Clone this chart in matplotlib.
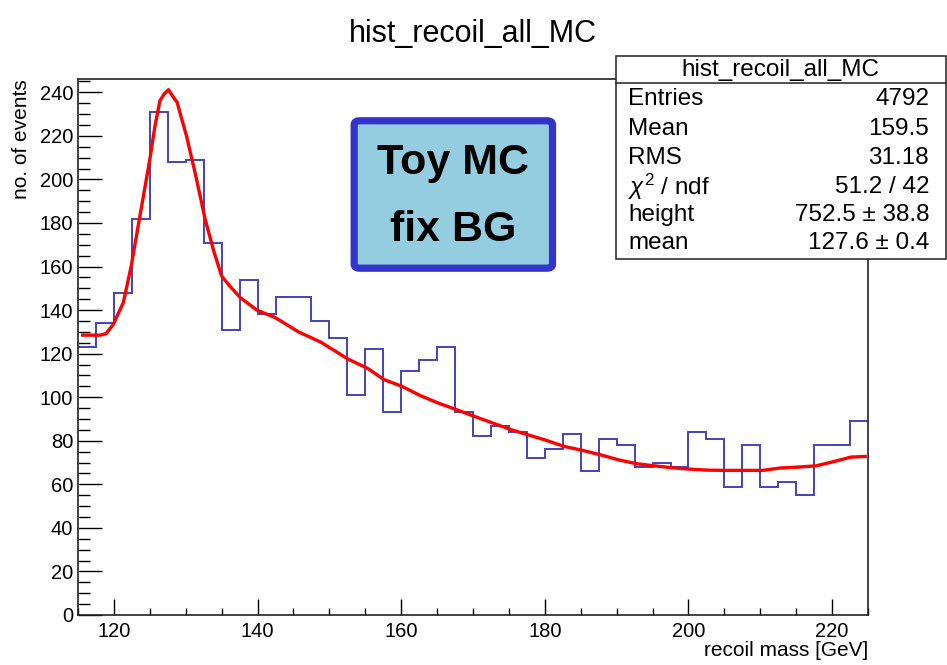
import numpy as np
import matplotlib.pyplot as plt
from matplotlib.patches import Rectangle, FancyBboxPatch
from matplotlib.lines import Line2D
from matplotlib.ticker import MultipleLocator

plt.rcParams['font.family'] = ['Liberation Sans', 'DejaVu Sans']
plt.rcParams['mathtext.fontset'] = 'custom'
plt.rcParams['mathtext.rm'] = 'Liberation Sans'
plt.rcParams['mathtext.it'] = 'Liberation Sans:italic'

# recoil mass histogram, 2.5 GeV bins from 115 to 225 GeV
x_lo = 115.0
bin_width = 2.5
counts = [123, 134, 148, 182, 231, 208, 209, 171, 131, 154,
          138, 146, 146, 135, 127, 101, 122, 93, 112, 117,
          123, 93, 82, 87, 84, 72, 76, 83, 66, 81,
          78, 68, 70, 68, 84, 81, 59, 78, 59, 61,
          55, 78, 78, 89]

# fitted signal + background curve
fit_x = [115.65, 118.07, 118.9, 119.9, 121.3, 122.4, 123.7, 125.0, 125.7, 126.4,
         127.0, 127.6, 128.2, 128.8, 129.4, 130.1, 131.4, 132.7, 133.9, 135.0,
         136.2, 137.6, 139.9, 142.5, 145.7, 148.8, 152.6, 155.3, 157.6, 160.1,
         162.7, 165.1, 167.7, 170.2, 172.7, 175.3, 177.6, 180.2, 182.7, 185.1,
         187.7, 190.2, 192.7, 195.2, 197.8, 200.1, 202.8, 205.3, 207.7, 210.3,
         212.8, 215.2, 217.8, 220.3, 222.6, 224.6]
fit_y = [128.5, 128.5, 129.2, 133.4, 143.4, 160.2, 184.8, 209.3, 224.3, 236.1,
         239.3, 241.2, 238.1, 235.4, 228.2, 220.0, 201.6, 181.7, 167.1, 155.6,
         150.8, 145.7, 140.0, 136.5, 130.0, 125.3, 117.5, 113.3, 108.1, 105.0,
         100.7, 97.4, 94.3, 91.2, 88.2, 85.1, 82.8, 80.2, 77.4, 75.7,
         73.6, 71.3, 69.5, 68.5, 67.6, 67.0, 66.5, 66.4, 66.4, 66.4,
         67.5, 67.9, 68.5, 70.5, 72.5, 72.8]

stat_names = ['Entries', 'Mean', 'RMS', r'$\chi^2$ / ndf', 'height', 'mean']
stat_values = ['4792', '159.5', '31.18', '51.2 / 42', '752.5 \u00b1 38.8', '127.6 \u00b1 0.4']

edges = x_lo + bin_width * np.arange(len(counts) + 1)

fig = plt.figure(figsize=(9.47, 6.65), dpi=100)
ax = fig.add_axes([0.0824, 0.0752, 0.8342, 0.8056])

ax.stairs(counts, edges, baseline=None, color='#4343bb', linewidth=1.4)
ax.plot(fit_x, fit_y, color='#ff0000', linewidth=2.4)

ax.set_xlim(115, 225)
ax.set_ylim(0, 246)
ax.xaxis.set_major_locator(MultipleLocator(20))
ax.xaxis.set_minor_locator(MultipleLocator(5))
ax.yaxis.set_major_locator(MultipleLocator(20))
ax.yaxis.set_minor_locator(MultipleLocator(5))
ax.tick_params(axis='x', which='major', direction='in', length=11.3, width=1.0,
               labelsize=14.5, pad=5)
ax.tick_params(axis='x', which='minor', direction='in', length=5.3, width=1.0)
ax.tick_params(axis='y', which='major', direction='in', length=17.3, width=1.0,
               labelsize=14.5, pad=3.5)
ax.tick_params(axis='y', which='minor', direction='in', length=8.6, width=1.0)
for s in ax.spines.values():
    s.set_linewidth(1.2)
    s.set_color('#222222')

ax.set_xlabel('recoil mass [GeV]', loc='right', fontsize=15)
ax.xaxis.set_label_coords(1.0, -0.048)
ax.set_ylabel('no. of events', loc='top', fontsize=15)
ax.yaxis.set_label_coords(-0.06, 1.0)

fig.text(0.4995, 0.949, 'hist_recoil_all_MC', ha='center', va='center', fontsize=22)

# label box
box = FancyBboxPatch((0.374, 0.5967), 0.2094, 0.2217,
                     boxstyle='round,pad=0,rounding_size=0.006',
                     transform=fig.transFigure, facecolor='#94cde0',
                     edgecolor='#3434cc', linewidth=5.2, zorder=5)
fig.add_artist(box)
fig.text(0.4788, 0.7549, 'Toy MC', ha='center', va='center', fontsize=31,
         fontweight='bold', zorder=6)
fig.text(0.4788, 0.654, 'fix BG', ha='center', va='center', fontsize=31,
         fontweight='bold', zorder=6)

# statistics box
sx0, sx1 = 0.6505, 0.9985
sy0, sy1 = 0.6101, 0.9162
stats = Rectangle((sx0, sy0), sx1 - sx0, sy1 - sy0, transform=fig.transFigure,
                  facecolor='white', edgecolor='#222222', linewidth=1.1, zorder=5)
fig.add_artist(stats)
fig.add_artist(Line2D([sx0, sx1], [0.8756, 0.8756], transform=fig.transFigure,
                      color='#222222', linewidth=1.1, zorder=6))
fig.text((sx0 + sx1) / 2, 0.8947, 'hist_recoil_all_MC', ha='center', va='center',
         fontsize=17.5, zorder=7)
row_y = [0.8507, 0.8055, 0.7624, 0.7193, 0.6762, 0.6346]
for name, val, y in zip(stat_names, stat_values, row_y):
    fig.text(0.6631, y, name, ha='left', va='center', fontsize=17.5, zorder=7)
    fig.text(0.981, y, val, ha='right', va='center', fontsize=17.5, zorder=7)

fig.savefig('out.png', dpi=100)
